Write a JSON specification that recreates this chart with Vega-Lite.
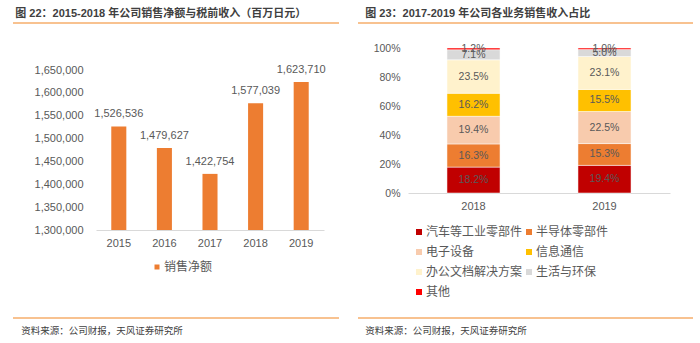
{
  "$schema": "https://vega.github.io/schema/vega-lite/v6.json",
  "padding": {"left": 12, "top": 8, "right": 0, "bottom": 0},
  "autosize": {"type": "pad"},
  "spacing": 17,
  "config": {
    "view": {"stroke": null},
    "font": "Liberation Sans, Noto Sans CJK SC",
    "axis": {"labelColor": "#595959", "labelFontSize": 11, "ticks": false, "tickSize": 0, "grid": false, "title": null},
    "legend": {"title": null, "padding": 0, "symbolType": "square", "symbolStrokeWidth": 0, "labelColor": "#595959", "labelFontSize": 12, "labelOffset": 1}
  },
  "resolve": {"scale": {"x": "independent", "y": "independent", "color": "independent"}, "legend": {"color": "independent"}},
  "hconcat": [
    {
      "title": {"text": "资料来源：公司财报，天风证券研究所", "orient": "bottom", "anchor": "start", "baseline": "top", "offset": 7, "dx": 9, "fontSize": 9.5, "fontWeight": "normal", "color": "#404040", "font": "Noto Sans CJK SC"},
      "vconcat": [
        {
          "title": {"text": "图 22：2015-2018 年公司销售净额与税前收入（百万日元）", "orient": "top", "anchor": "start", "offset": 3, "dx": 3, "fontSize": 11, "fontWeight": "bold", "color": "#404040"},
          "width": 326,
          "height": 295,
          "resolve": {"scale": {"x": "independent", "y": "independent"}},
          "layer": [
            {
              "data": {"values": [{"edge": "top"}, {"edge": "bottom"}]},
              "mark": {"type": "rule", "color": "#F6AE6B", "strokeWidth": 1.5},
              "encoding": {
                "y": {"field": "edge", "type": "nominal", "scale": {"type": "point", "domain": ["top", "bottom"], "padding": 0}, "axis": null}
              }
            },
            {
              "data": {"values": [
                {"year": "2015", "sales": 1526536, "series": "销售净额"},
                {"year": "2016", "sales": 1479627, "series": "销售净额"},
                {"year": "2017", "sales": 1422754, "series": "销售净额"},
                {"year": "2018", "sales": 1577039, "series": "销售净额"},
                {"year": "2019", "sales": 1623710, "series": "销售净额"}
              ]},
              "encoding": {
                "x": {"field": "year", "type": "nominal", "scale": {"range": [83, 311], "paddingInner": 0.67, "paddingOuter": 0.335},
                  "axis": {"orient": "bottom", "offset": -88, "labelAngle": 0, "domainColor": "#D9D9D9", "labelPadding": 7}},
                "y": {"field": "sales", "type": "quantitative", "scale": {"domain": [1300000, 1650000], "range": [207, 47], "nice": false, "zero": false},
                  "axis": {"orient": "left", "offset": -83, "values": [1300000, 1350000, 1400000, 1450000, 1500000, 1550000, 1600000, 1650000], "format": ",.0f", "domain": false, "labelPadding": 13}}
              },
              "layer": [
                {
                  "mark": {"type": "bar"},
                  "encoding": {
                    "y2": {"datum": 1300000},
                    "color": {"field": "series", "type": "nominal", "scale": {"domain": ["销售净额"], "range": ["#ED7D31"]},
                      "legend": {"orient": "none", "legendX": 138, "legendY": 238, "symbolSize": 25}}
                  }
                },
                {
                  "mark": {"type": "text", "baseline": "bottom", "dy": -7, "fontSize": 11, "color": "#595959"},
                  "encoding": {"text": {"field": "sales", "format": ","}}
                }
              ]
            }
          ]
        }
      ]
    },
    {
      "title": {"text": "资料来源：公司财报，天风证券研究所", "orient": "bottom", "anchor": "start", "baseline": "top", "offset": 7, "dx": 8, "fontSize": 9.5, "fontWeight": "normal", "color": "#404040", "font": "Noto Sans CJK SC"},
      "vconcat": [
        {
          "title": {"text": "图 23：2017-2019 年公司各业务销售收入占比", "orient": "top", "anchor": "start", "offset": 3, "dx": 8, "fontSize": 11, "fontWeight": "bold", "color": "#404040"},
          "width": 335,
          "height": 295,
          "resolve": {"scale": {"x": "independent", "y": "independent"}},
          "layer": [
            {
              "data": {"values": [{"edge": "top"}, {"edge": "bottom"}]},
              "mark": {"type": "rule", "color": "#F6AE6B", "strokeWidth": 1.5},
              "encoding": {
                "y": {"field": "edge", "type": "nominal", "scale": {"type": "point", "domain": ["top", "bottom"], "padding": 0}, "axis": null}
              }
            },
            {
              "data": {"values": [
                {"year": "2018", "seg": "汽车等工业零部件", "k": 1, "pct": 0.182},
                {"year": "2018", "seg": "半导体零部件", "k": 2, "pct": 0.163},
                {"year": "2018", "seg": "电子设备", "k": 3, "pct": 0.194},
                {"year": "2018", "seg": "信息通信", "k": 4, "pct": 0.162},
                {"year": "2018", "seg": "办公文档解决方案", "k": 5, "pct": 0.235},
                {"year": "2018", "seg": "生活与环保", "k": 6, "pct": 0.071},
                {"year": "2018", "seg": "其他", "k": 7, "pct": 0.012},
                {"year": "2019", "seg": "汽车等工业零部件", "k": 1, "pct": 0.194},
                {"year": "2019", "seg": "半导体零部件", "k": 2, "pct": 0.153},
                {"year": "2019", "seg": "电子设备", "k": 3, "pct": 0.225},
                {"year": "2019", "seg": "信息通信", "k": 4, "pct": 0.155},
                {"year": "2019", "seg": "办公文档解决方案", "k": 5, "pct": 0.231},
                {"year": "2019", "seg": "生活与环保", "k": 6, "pct": 0.05},
                {"year": "2019", "seg": "其他", "k": 7, "pct": 0.01}
              ]},
              "encoding": {
                "x": {"field": "year", "type": "nominal", "scale": {"range": [50, 312], "paddingInner": 0.595, "paddingOuter": 0.2975},
                  "axis": {"orient": "bottom", "offset": -125, "labelAngle": 0, "domainColor": "#D9D9D9", "labelPadding": 7}},
                "order": {"field": "k", "type": "quantitative"}
              },
              "layer": [
                {
                  "mark": {"type": "bar", "stroke": "#FFFFFF", "strokeWidth": 0.5},
                  "encoding": {
                    "y": {"field": "pct", "type": "quantitative", "stack": "normalize", "scale": {"domain": [0, 1], "range": [170, 25], "nice": false},
                      "axis": {"orient": "left", "offset": -50, "values": [0, 0.1, 0.2, 0.3, 0.4, 0.5, 0.6, 0.7, 0.8, 0.9, 1], "format": ".0%", "domain": false, "labelPadding": 8, "labelFontSize": 10.5}},
                    "color": {"field": "seg", "type": "nominal",
                      "scale": {"domain": ["汽车等工业零部件", "半导体零部件", "电子设备", "信息通信", "办公文档解决方案", "生活与环保", "其他"],
                                "range": ["#C00000", "#ED7D31", "#F8CBAD", "#FFC000", "#FFF2CC", "#D9D9D9", "#FF0000"]},
                      "legend": {"orient": "none", "direction": "horizontal", "legendX": 55, "legendY": 203, "columns": 2, "symbolSize": 36, "rowPadding": 8, "columnPadding": -4}}
                  }
                },
                {
                  "mark": {"type": "text", "baseline": "middle", "fontSize": 10.5, "color": "#595959"},
                  "encoding": {
                    "y": {"field": "pct", "type": "quantitative", "stack": "normalize", "bandPosition": 0.5},
                    "detail": {"field": "seg", "type": "nominal"},
                    "text": {"field": "pct", "format": ".1%"}
                  }
                }
              ]
            }
          ]
        }
      ]
    }
  ]
}
